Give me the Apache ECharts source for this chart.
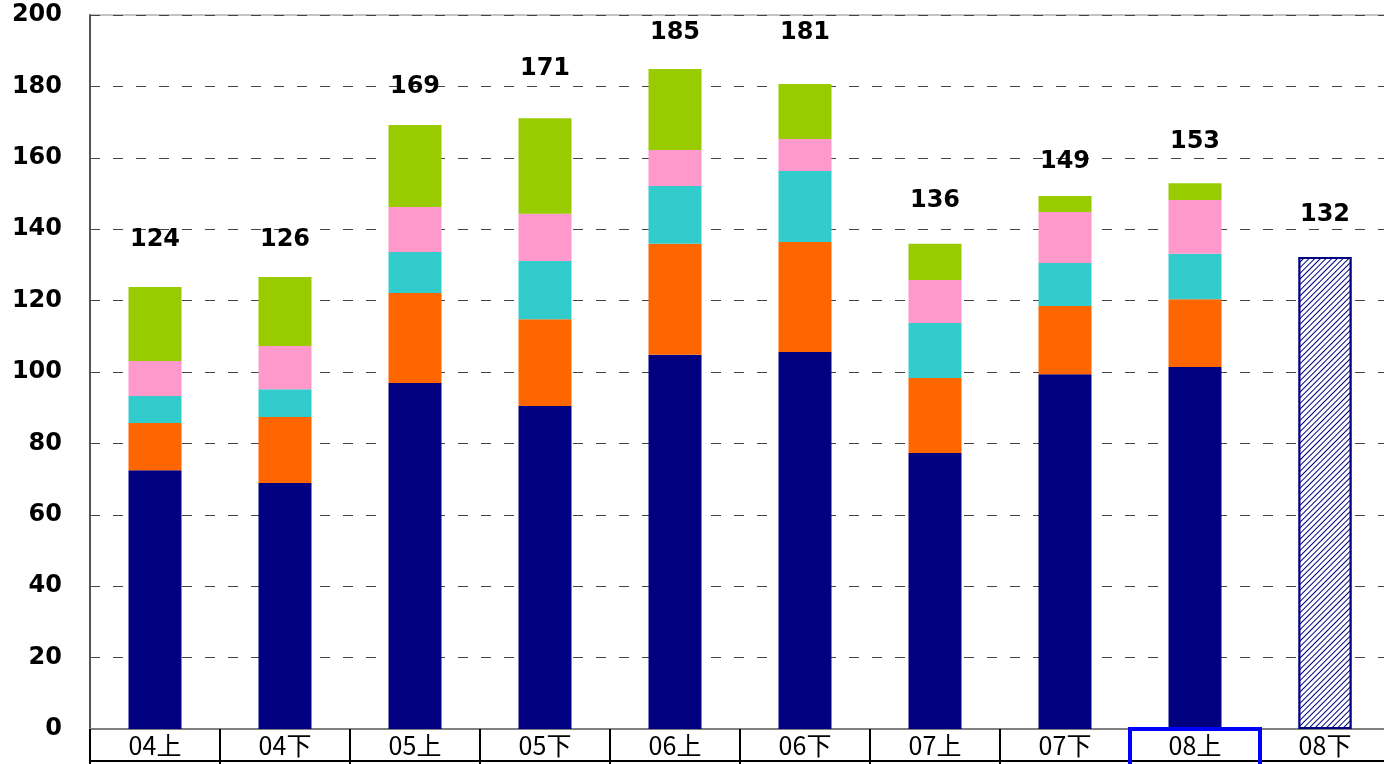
<!DOCTYPE html>
<html>
<head>
<meta charset="utf-8">
<script src="https://cdn.jsdelivr.net/npm/echarts@6/dist/echarts.min.js"></script>
<style>
  html, body { margin: 0; padding: 0; background: #fff; }
  #chart { width: 1384px; height: 764px; }
</style>
</head>
<body>
<div id="chart"></div>
<script>
  // カテゴリ
  var categories = ['04上', '04下', '05上', '05下', '06上', '06下', '07上', '07下', '08上', '08下'];
  // 積み上げ系列 (08下 は予測なので空)
  var seriesNavy   = [72.5, 68.9, 96.9, 90.5, 104.8, 105.6, 77.3, 99.4, 101.4, '-'];
  var seriesOrange = [13.2, 18.5, 25.2, 24.3, 31.1, 30.8, 21.0, 19.1, 19.0, '-'];
  var seriesTeal   = [7.6, 7.8, 11.5, 16.3, 16.2, 19.9, 15.4, 12.0, 12.7, '-'];
  var seriesPink   = [9.8, 12.1, 12.6, 13.2, 10.1, 9.0, 12.1, 14.3, 15.1, '-'];
  var seriesGreen  = [20.7, 19.3, 23.0, 26.8, 22.7, 15.4, 10.1, 4.5, 4.7, '-'];
  var seriesForecast = ['-', '-', '-', '-', '-', '-', '-', '-', '-', 132.2];
  // 合計ラベル
  var totals   = [124, 126, 169, 171, 185, 181, 136, 149, 153, 132];
  var labelPos = [137, 137, 180, 185, 195, 195, 148, 159, 164.5, 144];
  var yTicks = { min: 0, max: 200, interval: 20 };

  var chart = echarts.init(document.getElementById('chart'));

  function barSeries(name, data, color) {
    return {
      name: name,
      type: 'bar',
      stack: 'total',
      barWidth: 53,
      data: data,
      itemStyle: { color: color }
    };
  }

  var option = {
    animation: false,
    grid: {
      left: 90, top: 15, width: 1300, bottom: 35,
      outerBoundsMode: 'none', containLabel: false,
      show: true, borderColor: '#888', borderWidth: 1
    },
    xAxis: {
      type: 'category',
      data: categories,
      axisLine: { lineStyle: { color: '#808080', width: 2 } },
      axisTick: { show: true, length: 35, lineStyle: { color: '#000', width: 2 } },
      axisLabel: { color: '#000', fontSize: 25, fontFamily: 'Noto Sans CJK JP', margin: 4 }
    },
    yAxis: {
      type: 'value',
      min: yTicks.min,
      max: yTicks.max,
      interval: yTicks.interval,
      axisLine: { show: true, lineStyle: { color: '#555', width: 2 } },
      axisTick: { show: false },
      axisLabel: { color: '#000', fontSize: 24, fontWeight: 'bold', fontFamily: 'DejaVu Sans', margin: 28 },
      splitLine: { lineStyle: { color: '#444', width: 1, type: [10, 13] } }
    },
    series: [
      barSeries('a', seriesNavy, '#000080'),
      barSeries('b', seriesOrange, '#FF6600'),
      barSeries('c', seriesTeal, '#33CCCC'),
      barSeries('d', seriesPink, '#FF99CC'),
      barSeries('e', seriesGreen, '#99CC00'),
      {
        name: 'forecast',
        type: 'bar',
        stack: 'total',
        barWidth: 53,
        data: seriesForecast,
        itemStyle: {
          color: '#fff',
          borderColor: '#000080',
          borderWidth: 2,
          decal: {
            symbol: 'rect',
            color: '#000080',
            backgroundColor: '#fff',
            dashArrayX: [1, 0],
            dashArrayY: [1, 3],
            rotation: -Math.PI / 4
          }
        }
      },
      {
        name: 'totals',
        type: 'scatter',
        symbolSize: 0,
        data: labelPos,
        itemStyle: { opacity: 1 },
        label: {
          show: true,
          position: 'inside',
          color: '#000',
          fontSize: 24,
          fontWeight: 'bold',
          fontFamily: 'DejaVu Sans',
          formatter: function (p) { return totals[p.dataIndex]; }
        }
      }
    ]
  };
  chart.setOption(option);

  // 下枠線と 08上 の強調枠
  var axisY = chart.convertToPixel({ yAxisIndex: 0 }, 0);
  var hx = chart.convertToPixel({ xAxisIndex: 0 }, '08上');
  chart.setOption({
    graphic: [
      {
        type: 'line',
        z: 100,
        shape: { x1: 90, y1: 761, x2: 1384, y2: 761 },
        style: { stroke: '#000', lineWidth: 2 }
      },
      {
        type: 'rect',
        z: 100,
        shape: { x: hx - 65, y: axisY, width: 130, height: 60 },
        style: { fill: 'none', stroke: '#0000FF', lineWidth: 4 }
      }
    ]
  });
</script>
</body>
</html>
